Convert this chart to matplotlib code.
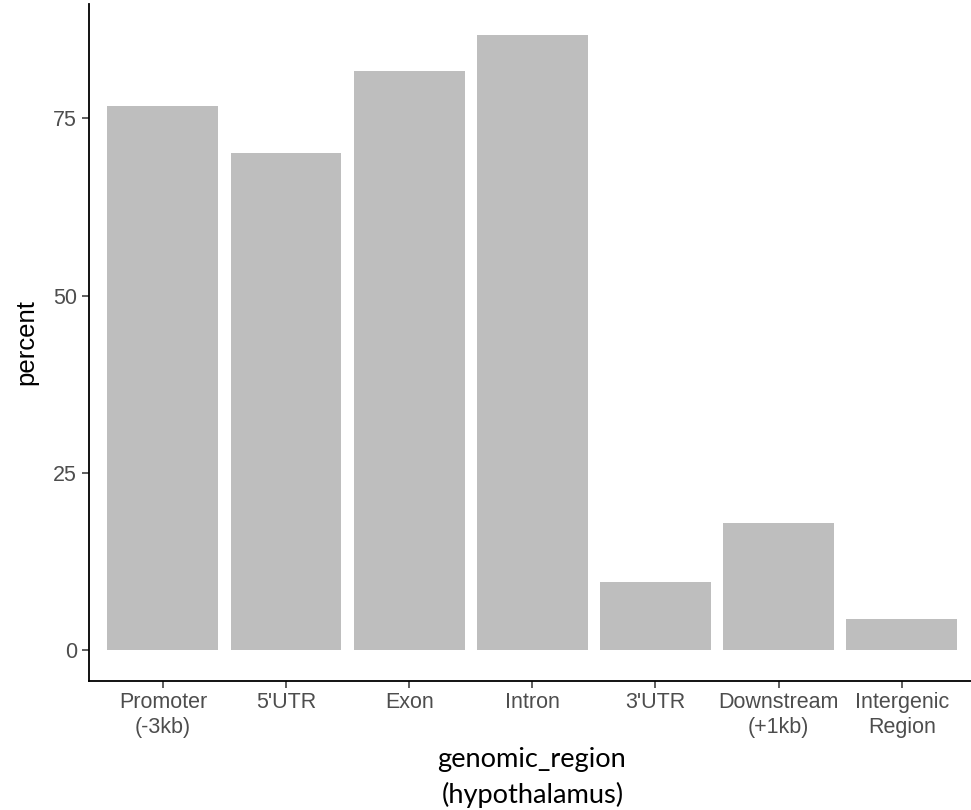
import matplotlib
matplotlib.use("Agg")
from matplotlib import pyplot as plt

regions = ["Promoter\n(-3kb)", "5'UTR", "Exon", "Intron", "3'UTR",
           "Downstream\n(+1kb)", "Intergenic\nRegion"]
percent = [76.7, 70.1, 81.7, 86.8, 9.6, 17.95, 4.37]
yticks = [0, 25, 50, 75]

W, H = 971, 810
fig = plt.figure(figsize=(W / 100, H / 100), dpi=100)

# axes box in pixels (ggplot classic layout, right side cropped)
x0, x1 = 89, 975.6
y_top, y_bot = 3.85, 681.1
ax = fig.add_axes([x0 / W, 1 - y_bot / H, (x1 - x0) / W, (y_bot - y_top) / H])

pos = list(range(len(regions)))
ax.bar(pos, percent, width=0.9, color="#BEBEBE", edgecolor="none")

ax.set_xlim(-0.6, len(regions) - 0.4)
ax.set_ylim(-4.34, 91.14)

for s in ["top", "right"]:
    ax.spines[s].set_visible(False)
for s in ["left", "bottom"]:
    ax.spines[s].set_linewidth(1.3)
    ax.spines[s].set_color("black")

ax.set_xticks(pos)
ax.set_xticklabels(regions, fontsize=15.5, color="#4D4D4D",
                   family="Liberation Sans", linespacing=1.25)
ax.set_yticks(yticks)
ax.set_yticklabels([str(v) for v in yticks], fontsize=15.5, color="#4D4D4D",
                   family="Liberation Sans")
ax.tick_params(axis="both", length=5, width=1.1, color="#333333")
ax.tick_params(axis="x", pad=3)
ax.tick_params(axis="y", pad=3.5)

ax.set_ylabel("percent", fontsize=18.5, family="Liberation Sans", labelpad=11)

fig.text(531 / W, 1 - 767 / H, "genomic_region", ha="center", va="baseline",
         fontsize=19.6, family="Lato", color="black")
fig.text(533 / W, 1 - 803 / H, "(hypothalamus)", ha="center", va="baseline",
         fontsize=19.6, family="Lato", color="black")

fig.savefig("out.png", dpi=100)
